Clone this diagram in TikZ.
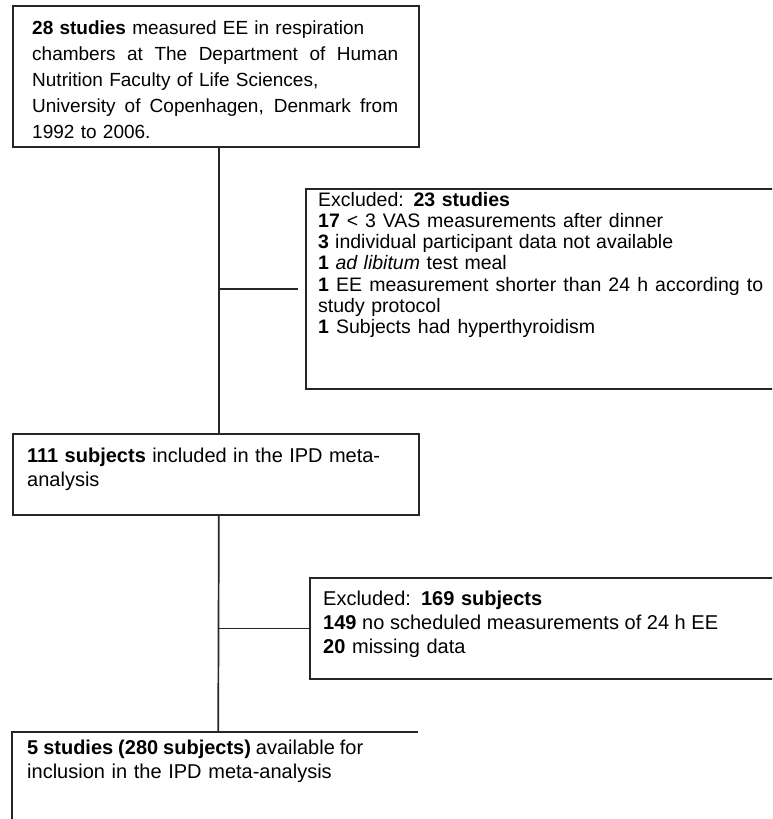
\documentclass[tikz,border=0pt]{standalone}
\usepackage{fontspec}
\setmainfont{Liberation Sans}
\usetikzlibrary{calc}
\newcommand{\jline}[2]{\makebox[#1][s]{\spaceskip=0.278em plus 1fil minus 0.12em\relax #2}}
\begin{document}
\begin{tikzpicture}[x=1pt,y=1pt,
  box/.style={draw=black!85, line width=1.7pt, fill=white, rectangle, inner sep=0pt, anchor=north west},
  openbox/.style={rectangle, inner sep=0pt, anchor=north west},
  conn/.style={draw=black!85, line width=1.7pt},
  txt/.style={anchor=north west, inner sep=0pt, align=left, text=black},
  fa/.style={font=\fontsize{19}{26}\selectfont},
  fb/.style={font=\fontsize{19.5}{21.2}\selectfont},
  fc/.style={font=\fontsize{20}{24}\selectfont}]
\fill[white] (0,0) rectangle (772,-819);
\clip (0,0) rectangle (772,-819);
% boxes
\node[box, minimum width=406, minimum height=141] (b1) at (12,-5) {};
\node[box, minimum width=485, minimum height=200] (b2) at (305,-188) {};
\node[box, minimum width=406, minimum height=81] (b3) at (12,-433) {};
\node[box, minimum width=481, minimum height=101] (b4) at (309,-577) {};
\node[openbox, minimum width=406, minimum height=100] (b5) at (12,-732) {};
\draw[conn] (b5.south west) -- (b5.north west) -- (b5.north east);
% texts
\node[txt, fa, text width=380] (t1) at (32,-19) {\rule{0pt}{15pt}\jline{332pt}{\textbf{28 studies} measured EE in respiration}\\
\jline{366pt}{chambers at The Department of Human}\\
Nutrition Faculty of Life Sciences,\\
\jline{366pt}{University of Copenhagen, Denmark from}\\
1992 to 2006.};
\node[txt, fb, text width=450] (t2) at (318,-191) {\rule{0pt}{15pt}Excluded: \textbf{23 studies}\\
\jline{345pt}{\textbf{17} < 3 VAS measurements after dinner}\\
\jline{355pt}{\textbf{3} individual participant data not available}\\
\textbf{1} \textit{ad libitum} test meal\\
\jline{445pt}{\textbf{1} EE measurement shorter than 24 h according to}\\
study protocol\\
\jline{277pt}{\textbf{1} Subjects had hyperthyroidism}};
\node[txt, fc, text width=385] (t3) at (27,-447) {\rule{0pt}{15pt}\jline{353pt}{\textbf{111 subjects} included in the IPD meta-}\\
analysis};
\node[txt, fc, text width=440] (t4) at (323,-590) {\rule{0pt}{15pt}Excluded: \textbf{169 subjects}\\
\jline{395pt}{\textbf{149} no scheduled measurements of 24 h EE}\\
\textbf{20} missing data};
\node[txt, fc, text width=385] (t5) at (27,-739) {\rule{0pt}{15pt}\jline{336pt}{\textbf{5 studies (280 subjects)} available for}\\
inclusion in the IPD meta-analysis};
% connectors
\draw[conn] ([xshift=3pt]b1.south) -- ([xshift=3pt]b3.north);
\draw[conn] ([xshift=3pt]b3.south) -- ([xshift=3pt]b5.north);
\draw[conn] ([xshift=3pt]b1.south |- b2.west) -- ([xshift=-7pt]b2.west);
\draw[conn] ([xshift=3pt]b3.south |- b4.west) -- (b4.west);
\end{tikzpicture}
\end{document}
